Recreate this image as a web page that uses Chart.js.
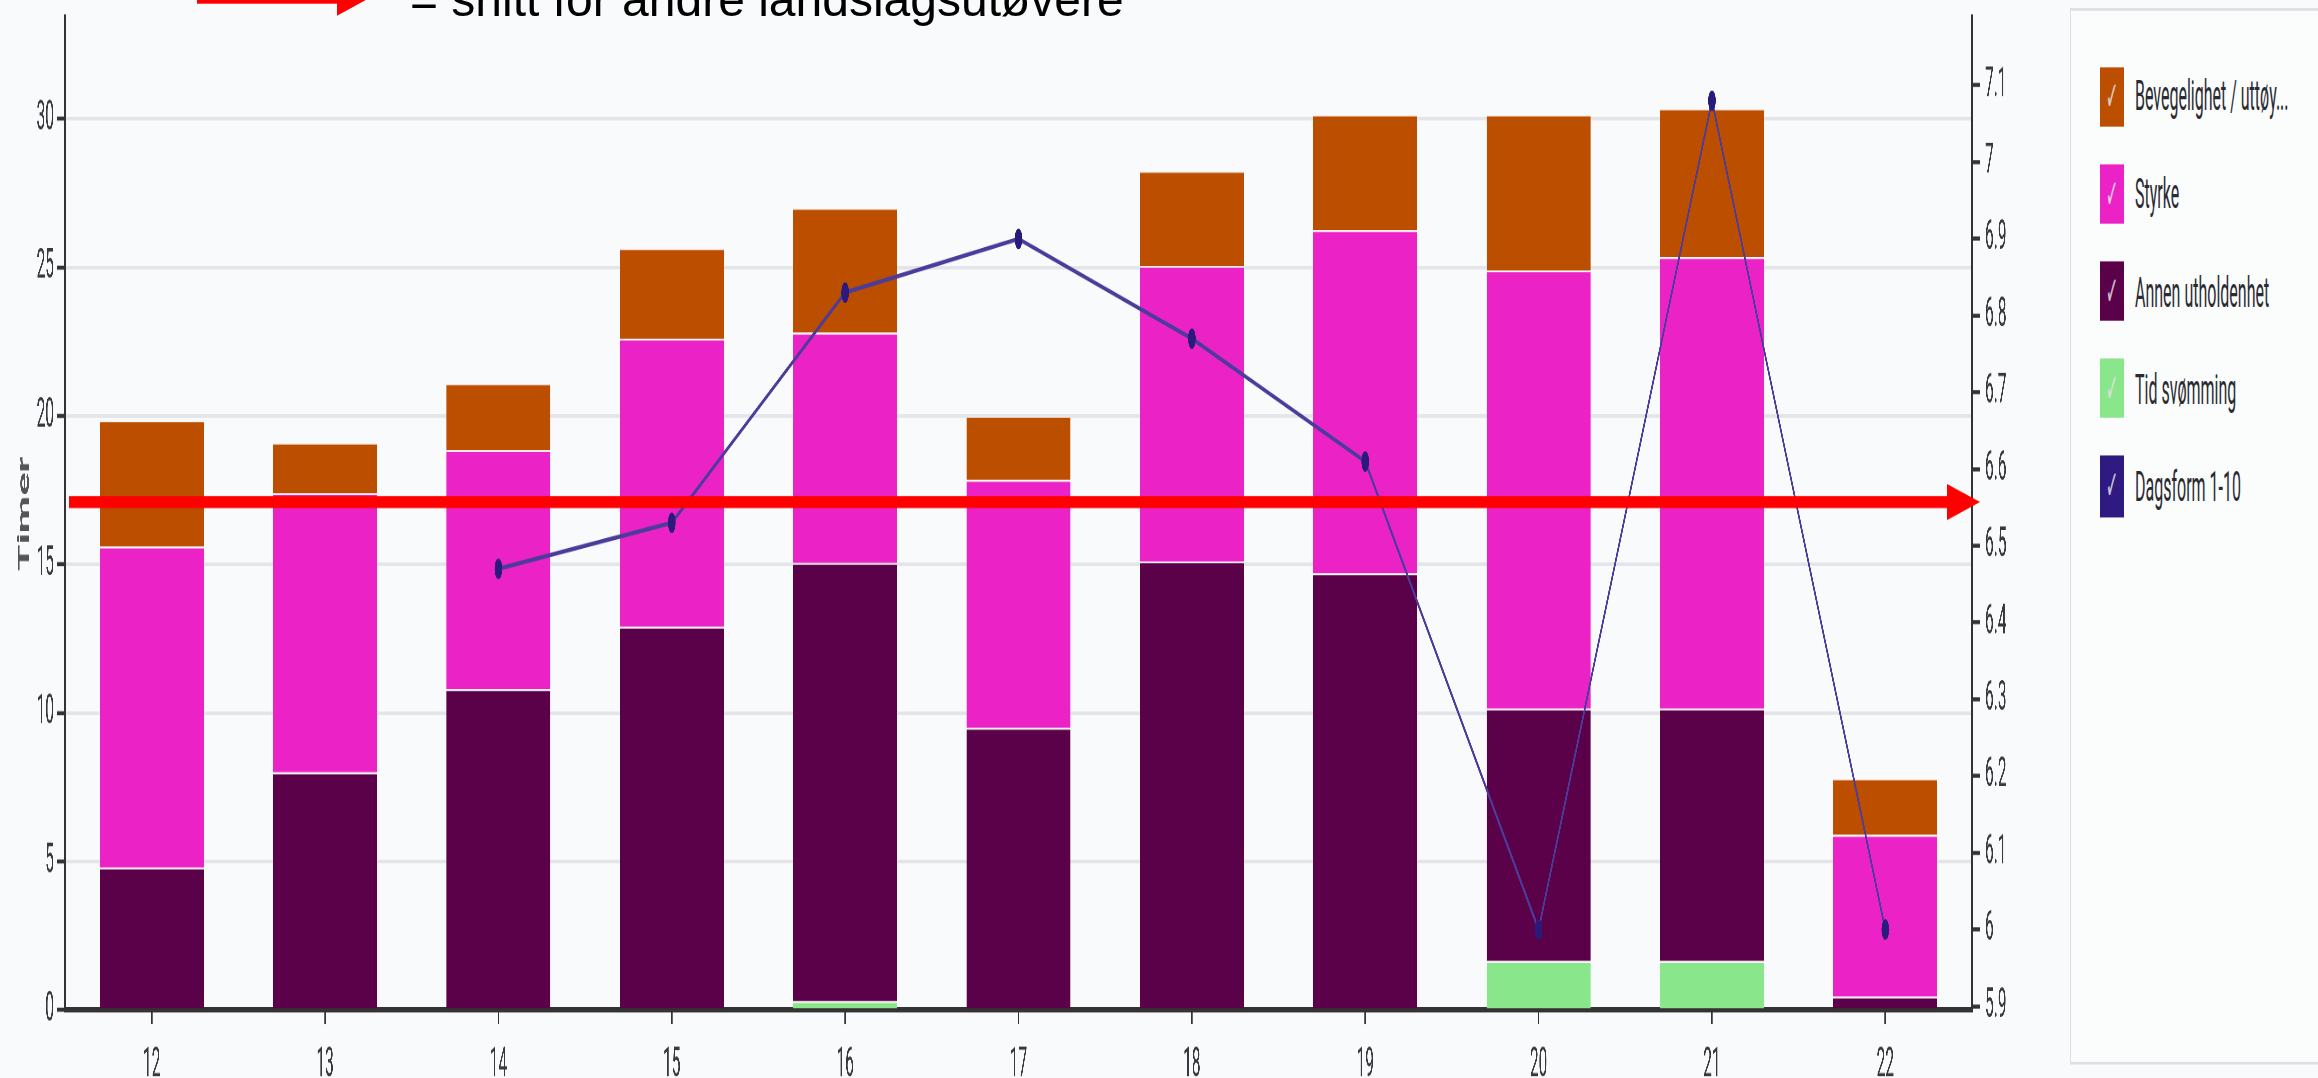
<!DOCTYPE html>
<html>
<head>
<meta charset="utf-8">
<script src="https://cdn.jsdelivr.net/npm/chart.js"></script>
<style>
  html, body { margin: 0; padding: 0; background: #f9fafb; overflow: hidden; }
  body { width: 2318px; height: 1078px; position: relative; }
  /* the reference is a screenshot squeezed sideways, so the chart is drawn low and stretched up */
  #stage { position: absolute; left: 0; top: 0; width: 2318px; height: 400px; transform-origin: 0 0; }
  #legend {
    position: absolute; left: 2070px; top: 2.6px; width: 270px; height: 392px;
    border: 1px solid #dedfe1; background: #fbfcfc; box-sizing: border-box;
    padding: 21px 0 0 29px; font-family: Roboto, sans-serif; font-size: 16px; color: #2b2b33;
  }
  .item { display: flex; align-items: center; height: 22.3px; margin-bottom: 13.9px; white-space: nowrap; }
  .sw { width: 24px; height: 22.3px; margin-right: 11px; color: rgba(225,225,230,0.85);
        font: 15px 'DejaVu Sans', sans-serif; display: flex; align-items: center; justify-content: center; }
  #note { position: absolute; left: 410px; top: -24px; font: 48px/48px 'Liberation Sans', Arial, sans-serif;
          color: #000; white-space: nowrap; }
  #pil { position: absolute; left: 0; top: 0; }
</style>
</head>
<body>
<div id="stage">
  <canvas id="chart" width="2318" height="400"></canvas>
  <div id="legend"></div>
</div>
<svg id="pil" width="400" height="24">
  <rect x="197" y="-8.3" width="141" height="12" fill="#ff0000"></rect>
  <polygon points="337,-20.3 370,-2.3 337,15.7" fill="#ff0000"></polygon>
</svg>
<div id="note">= snitt for andre landslagsutøvere</div>

<script>
// Uke
var uker = ['12', '13', '14', '15', '16', '17', '18', '19', '20', '21', '22'];

// Timer per aktivitet (stablet nedenfra)
var tidSvomming      = [0, 0, 0, 0, 0.3, 0, 0, 0, 1.65, 1.65, 0];
var annenUtholdenhet = [4.8, 8, 10.8, 12.9, 14.75, 9.5, 15.1, 14.7, 8.5, 8.5, 0.45];
var styrke           = [10.8, 9.4, 8.05, 9.7, 7.75, 8.35, 9.95, 11.55, 14.75, 15.2, 5.45];
var bevegelighet     = [4.25, 1.7, 2.25, 3.05, 4.2, 2.15, 3.2, 3.9, 5.25, 5.0, 1.9];

// Dagsform 1-10 (høyre akse)
var dagsform = [null, null, 6.47, 6.53, 6.83, 6.9, 6.77, 6.61, 6.0, 7.08, 6.0];

// snitt for andre landslagsutøvere (timer)
var snittAndre = 17.1;

// Aksegrenser
var timerMin = 0, timerMax = 33.4, timerSteg = 5;
var formMin = 5.895, formMax = 7.188, formSteg = 0.1;

var STRETCH = 1078 / 400;
document.getElementById('stage').style.transform = 'scaleY(' + STRETCH + ')';

var farger = {
    bevegelighet: '#bc4e00',
    styrke: '#eb23c6',
    utholdenhet: '#5a0149',
    svomming: '#8ae68a',
    dagsform: '#2e1a80'
};

// Egen legende med hake, som i originalen
var legendeData = [
    ['Bevegelighet / uttøy...', farger.bevegelighet],
    ['Styrke', farger.styrke],
    ['Annen utholdenhet', farger.utholdenhet],
    ['Tid svømming', farger.svomming],
    ['Dagsform 1-10', farger.dagsform]
];
var legende = document.getElementById('legend');
legendeData.forEach(function (l) {
    var item = document.createElement('div');
    item.className = 'item';
    var sw = document.createElement('span');
    sw.className = 'sw';
    sw.style.background = l[1];
    sw.textContent = '✓';
    var txt = document.createElement('span');
    txt.textContent = l[0];
    item.appendChild(sw);
    item.appendChild(txt);
    legende.appendChild(item);
});

// Rød pil for snittet til de andre
var snittPil = {
    id: 'snittPil',
    afterDraw: function (chart) {
        var ctx = chart.ctx, area = chart.chartArea;
        var y = chart.scales.y.getPixelForValue(snittAndre);
        var x0 = area.left + 4, xb = area.right - 25, xt = area.right + 8;
        var lw = 12 / STRETCH, hh = 18 / STRETCH;
        ctx.save();
        ctx.fillStyle = '#ff0000';
        ctx.fillRect(x0, y - lw / 2, xb - x0, lw);
        ctx.beginPath();
        ctx.moveTo(xb, y - hh);
        ctx.lineTo(xt, y);
        ctx.lineTo(xb, y + hh);
        ctx.closePath();
        ctx.fill();
        ctx.restore();
    }
};

Chart.defaults.font.family = 'Roboto, sans-serif';
var tickFont = { size: 15.5 };
var tickFarge = '#38383f';

function barSett(label, data, farge) {
    return {
        type: 'bar',
        label: label,
        data: data,
        backgroundColor: farge,
        borderColor: 'rgba(255,235,235,0.3)',
        borderWidth: { top: 0.7, left: 0, right: 0, bottom: 0 },
        borderSkipped: 'start',
        yAxisID: 'y',
        order: 1
    };
}

new Chart(document.getElementById('chart'), {
    type: 'bar',
    data: {
        labels: uker,
        datasets: [
            {
                type: 'line',
                label: 'Dagsform 1-10',
                data: dagsform,
                yAxisID: 'y2',
                borderColor: '#4b3c9c',
                borderWidth: 1.6,
                pointRadius: 3.8,
                pointBackgroundColor: '#2a1a7c',
                pointBorderWidth: 0,
                tension: 0,
                order: 0
            },
            barSett('Tid svømming', tidSvomming, farger.svomming),
            barSett('Annen utholdenhet', annenUtholdenhet, farger.utholdenhet),
            barSett('Styrke', styrke, farger.styrke),
            barSett('Bevegelighet / uttøy...', bevegelighet, farger.bevegelighet)
        ]
    },
    options: {
        responsive: false,
        devicePixelRatio: 3,
        animation: false,
        layout: { padding: { top: 6.6, right: 296, bottom: 0, left: 0 } },
        datasets: { bar: { categoryPercentage: 1, barPercentage: 0.6 } },
        plugins: { legend: { display: false }, tooltip: { enabled: false } },
        scales: {
            x: {
                stacked: true,
                grid: { offset: false, drawOnChartArea: false, tickLength: 5.2, tickColor: '#333', tickWidth: 1.5 },
                border: { color: '#333', width: 2 },
                ticks: { font: tickFont, color: tickFarge, padding: 6, maxRotation: 0, autoSkip: false },
                afterFit: function (s) { s.height = 25.2; s.paddingLeft = 0; s.paddingRight = 0; }
            },
            y: {
                stacked: true,
                position: 'left',
                min: timerMin,
                max: timerMax,
                ticks: { stepSize: timerSteg, includeBounds: false, padding: 3, font: tickFont, color: tickFarge },
                grid: { color: '#e4e5e9', lineWidth: 1.3, tickLength: 8, tickColor: '#333', tickWidth: 1.5 },
                border: { color: '#333', width: 2.5 },
                title: {
                    display: true, text: 'Timer', color: '#555',
                    font: { size: 16, weight: 'bold' }, padding: { top: 15.4, bottom: 0 }
                },
                afterFit: function (s) { s.width = 65; s.paddingTop = 0; s.paddingBottom = 0; }
            },
            y2: {
                position: 'right',
                min: formMin,
                max: formMax,
                ticks: {
                    stepSize: formSteg, includeBounds: false, maxTicksLimit: 20, padding: 5,
                    font: tickFont, color: tickFarge,
                    callback: function (v) { return String(Math.round(v * 10) / 10); }
                },
                grid: { drawOnChartArea: false, tickLength: 8, tickColor: '#333', tickWidth: 1.5 },
                border: { color: '#333', width: 2.5 },
                afterFit: function (s) { s.width = 50; s.paddingTop = 0; s.paddingBottom = 0; }
            }
        }
    },
    plugins: [snittPil]
});
</script>
</body>
</html>
